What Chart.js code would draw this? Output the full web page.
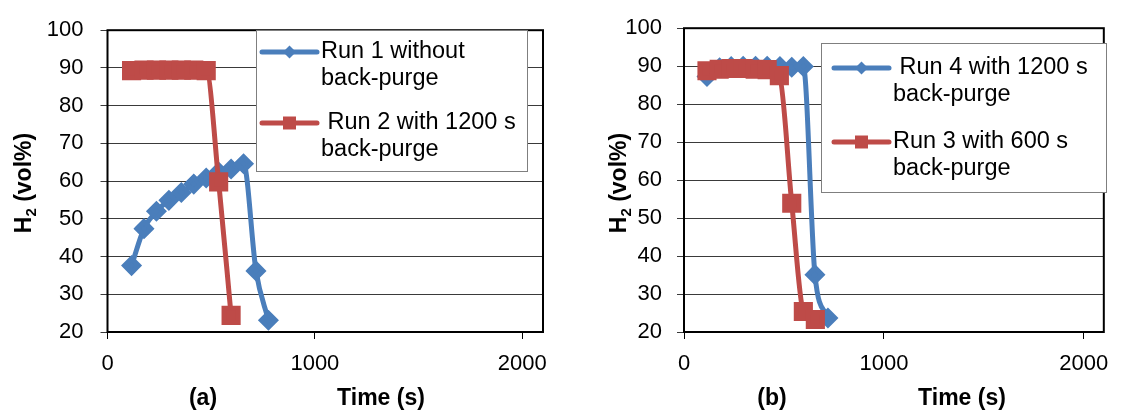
<!DOCTYPE html>
<html>
<head>
<meta charset="utf-8">
<script src="https://cdn.jsdelivr.net/npm/chart.js@4.4.1/dist/chart.umd.min.js"></script>
<style>
  html, body { margin: 0; padding: 0; background: #fff; }
  #wrap { position: relative; width: 1121px; height: 410px; }
  .panel { position: absolute; top: 0; height: 410px; }
  #panelA { left: 0; width: 560px; }
  #panelB { left: 560px; width: 561px; }
</style>
</head>
<body>
<div id="wrap">
  <div class="panel" id="panelA"><canvas id="chartA" width="560" height="410"></canvas></div>
  <div class="panel" id="panelB"><canvas id="chartB" width="561" height="410"></canvas></div>
</div>
<script>
// panel (a)
const timeRun1 = [116, 176, 236, 296, 356, 416, 476, 536, 596, 656, 716, 776];
const h2Run1   = [37.6, 47.4, 52.0, 54.9, 57.0, 59.2, 60.8, 62.4, 63.2, 64.6, 36.2, 23.1];
const timeRun2 = [116, 176, 236, 296, 356, 416, 476, 536, 596];
const h2Run2   = [89.3, 89.4, 89.4, 89.4, 89.4, 89.4, 89.3, 59.8, 24.4];

// panel (b)
const timeRun4 = [115, 178, 236, 296, 358, 416, 480, 539, 597, 655, 720];
const h2Run4   = [87.3, 89.6, 89.9, 90.0, 90.0, 90.0, 89.9, 89.7, 89.9, 35.1, 23.7];
const timeRun3 = [115, 176, 236, 296, 356, 416, 477, 539, 597, 657];
const h2Run3   = [88.8, 89.2, 89.4, 89.4, 89.2, 89.1, 87.5, 53.9, 25.4, 23.3];

// axes
const xTicks = [0, 1000, 2000];
const yTicks = [20, 30, 40, 50, 60, 70, 80, 90, 100];
const xMax = 2100;

const legendA = [['Run 1 without', 'back-purge'], [' Run 2 with 1200 s', 'back-purge']];
const legendB = [[' Run 4 with 1200 s', 'back-purge'], ['Run 3 with 600 s', 'back-purge']];

const BLUE = '#4a7ebb';
const RED = '#be4b48';
const FONT = '"Liberation Sans", Arial, sans-serif';

function pts(xs, ys) { return xs.map((x, i) => ({ x: x, y: ys[i] })); }

function drawMarker(ctx, style, color, x, y) {
  ctx.save();
  ctx.fillStyle = color;
  ctx.beginPath();
  if (style === 'rectRot') {
    const r = 6.5;
    ctx.moveTo(x, y - r); ctx.lineTo(x + r, y); ctx.lineTo(x, y + r); ctx.lineTo(x - r, y);
  } else {
    const s = 6.5;
    ctx.rect(x - s, y - s, 2 * s, 2 * s);
  }
  ctx.closePath();
  ctx.fill();
  ctx.restore();
}

// frame, legend box, axis titles
const decor = {
  id: 'decor',
  afterDraw(chart, args, o) {
    const ctx = chart.ctx;
    const a = chart.chartArea;
    ctx.save();
    // plot frame
    ctx.strokeStyle = '#000';
    ctx.lineWidth = 2;
    ctx.strokeRect(a.left, a.top, a.right - a.left, a.bottom - a.top);

    // legend
    const b = o.box;
    ctx.fillStyle = '#fff';
    ctx.fillRect(b.x, b.y, b.w, b.h);
    ctx.strokeStyle = '#7f7f7f';
    ctx.lineWidth = 1;
    ctx.strokeRect(b.x + 0.5, b.y + 0.5, b.w, b.h);
    ctx.font = '23.5px ' + FONT;
    ctx.textBaseline = 'middle';
    ctx.textAlign = 'left';
    o.entries.forEach((lines, i) => {
      const ds = chart.data.datasets[i];
      const y = o.rowY[i];
      ctx.strokeStyle = ds.borderColor;
      ctx.lineWidth = 5;
      ctx.lineCap = 'round';
      ctx.beginPath();
      ctx.moveTo(o.sampleX[0], y); ctx.lineTo(o.sampleX[1], y);
      ctx.stroke();
      drawMarker(ctx, ds.pointStyle, ds.borderColor, (o.sampleX[0] + o.sampleX[1]) / 2, y);
      ctx.fillStyle = '#000';
      lines.forEach((t, k) => ctx.fillText(t, o.textX, y + k * 27));
    });

    // y title with subscript
    ctx.save();
    ctx.translate(o.yTitle.x, o.yTitle.y);
    ctx.rotate(-Math.PI / 2);
    ctx.fillStyle = '#000';
    ctx.textBaseline = 'alphabetic';
    const big = 'bold 23px ' + FONT, small = 'bold 15px ' + FONT;
    ctx.font = big; const wH = ctx.measureText('H').width; const wRest = ctx.measureText(' (vol%)').width;
    ctx.font = small; const w2 = ctx.measureText('2').width;
    let x0 = -(wH + w2 + wRest) / 2;
    ctx.font = big; ctx.fillText('H', x0, 8);
    ctx.font = small; ctx.fillText('2', x0 + wH, 13);
    ctx.font = big; ctx.fillText(' (vol%)', x0 + wH + w2, 8);
    ctx.restore();

    // x title and panel tag
    ctx.font = 'bold 23px ' + FONT;
    ctx.fillStyle = '#000';
    ctx.textAlign = 'center';
    ctx.textBaseline = 'middle';
    ctx.fillText(o.tag, o.tagX, o.titleY);
    ctx.fillText('Time (s)', o.titleX, o.titleY);
    ctx.restore();
  }
};

function makeChart(id, sets, yWidth, pad, yPad, decorOpts) {
  const ctx = document.getElementById(id).getContext('2d');
  return new Chart(ctx, {
    type: 'line',
    data: {
      datasets: sets.map(s => ({
        label: s.label,
        data: s.data,
        borderColor: s.color,
        backgroundColor: s.color,
        pointBackgroundColor: s.color,
        pointBorderColor: s.color,
        pointStyle: s.style,
        pointRadius: s.style === 'rect' ? 10 : 7,
        borderWidth: 5,
        cubicInterpolationMode: 'monotone',
        order: s.order
      }))
    },
    options: {
      responsive: false,
      animation: false,
      layout: { padding: pad },
      plugins: { legend: { display: false }, tooltip: { enabled: false }, decor: decorOpts },
      scales: {
        x: {
          type: 'linear', min: 0, max: xMax,
          afterBuildTicks: sc => { sc.ticks = xTicks.map(v => ({ value: v })); },
          afterFit: sc => { sc.height = 78; },
          grid: { drawOnChartArea: false, drawTicks: true, tickLength: 7, color: '#000' },
          border: { display: false },
          ticks: { font: { family: FONT, size: 22 }, color: '#000', padding: 12, maxRotation: 0,
                   callback: v => String(v) }
        },
        y: {
          type: 'linear', min: 20, max: 100,
          afterBuildTicks: sc => { sc.ticks = yTicks.map(v => ({ value: v })); },
          afterFit: sc => { sc.width = yWidth; },
          grid: { drawOnChartArea: true, drawTicks: true, tickLength: 7, color: '#3a3a3a', lineWidth: 1 },
          border: { display: false },
          ticks: { font: { family: FONT, size: 22 }, color: '#000', padding: yPad,
                   callback: v => String(v) }
        }
      }
    },
    plugins: [decor]
  });
}

makeChart('chartA', [
  { label: 'Run 1 without back-purge', data: pts(timeRun1, h2Run1), color: BLUE, style: 'rectRot', order: 1 },
  { label: 'Run 2 with 1200 s back-purge', data: pts(timeRun2, h2Run2), color: RED, style: 'rect', order: 0 }
], 107.5, { left: 0, right: 17, top: 20, bottom: 0 }, 17, {
  box: { x: 256, y: 30, w: 271, h: 141 },
  sampleX: [262, 317], textX: 321, rowY: [52, 123], entries: legendA,
  yTitle: { x: 23, y: 183 },
  tag: '(a)', tagX: 203, titleX: 381, titleY: 399
});

makeChart('chartB', [
  { label: 'Run 4 with 1200 s back-purge', data: pts(timeRun4, h2Run4), color: BLUE, style: 'rectRot', order: 1 },
  { label: 'Run 3 with 600 s back-purge', data: pts(timeRun3, h2Run3), color: RED, style: 'rect', order: 0 }
], 124, { left: 0, right: 9.5, top: 21.5, bottom: 0 }, 15, {
  box: { x: 261, y: 43, w: 285, h: 149 },
  sampleX: [274, 329], textX: 333, rowY: [68, 142], entries: legendB,
  yTitle: { x: 58, y: 183 },
  tag: '(b)', tagX: 212, titleX: 402, titleY: 399
});
</script>
</body>
</html>
